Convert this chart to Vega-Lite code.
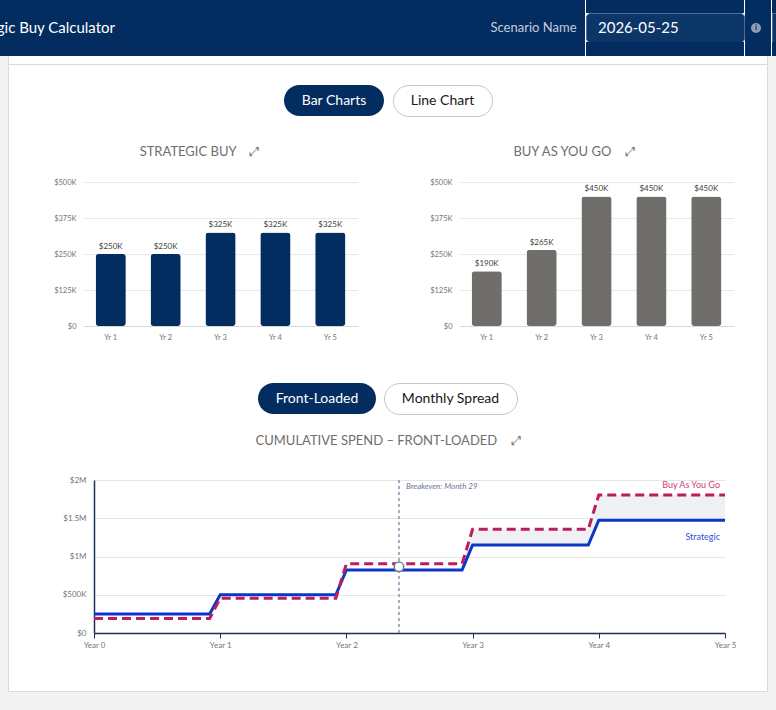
{
  "$schema": "https://vega.github.io/schema/vega-lite/v6.json",
  "background": "#ffffff",
  "padding": 0,
  "spacing": 0,
  "config": {
    "view": {"stroke": null},
    "font": "Lato",
    "concat": {"spacing": 0}
  },
  "datasets": {
    "strategic": [
      {"year": "Yr 1", "amount": 250000},
      {"year": "Yr 2", "amount": 250000},
      {"year": "Yr 3", "amount": 325000},
      {"year": "Yr 4", "amount": 325000},
      {"year": "Yr 5", "amount": 325000}
    ],
    "payg": [
      {"year": "Yr 1", "amount": 190000},
      {"year": "Yr 2", "amount": 265000},
      {"year": "Yr 3", "amount": 450000},
      {"year": "Yr 4", "amount": 450000},
      {"year": "Yr 5", "amount": 450000}
    ],
    "cumulative": [
      {"plan": "Strategic", "month": 0, "value": 250000},
      {"plan": "Strategic", "month": 11, "value": 250000},
      {"plan": "Strategic", "month": 12, "value": 500000},
      {"plan": "Strategic", "month": 23, "value": 500000},
      {"plan": "Strategic", "month": 24, "value": 825000},
      {"plan": "Strategic", "month": 35, "value": 825000},
      {"plan": "Strategic", "month": 36, "value": 1150000},
      {"plan": "Strategic", "month": 47, "value": 1150000},
      {"plan": "Strategic", "month": 48, "value": 1475000},
      {"plan": "Strategic", "month": 60, "value": 1475000},
      {"plan": "Buy As You Go", "month": 0, "value": 190000},
      {"plan": "Buy As You Go", "month": 11, "value": 190000},
      {"plan": "Buy As You Go", "month": 12, "value": 455000},
      {"plan": "Buy As You Go", "month": 23, "value": 455000},
      {"plan": "Buy As You Go", "month": 24, "value": 905000},
      {"plan": "Buy As You Go", "month": 35, "value": 905000},
      {"plan": "Buy As You Go", "month": 36, "value": 1355000},
      {"plan": "Buy As You Go", "month": 47, "value": 1355000},
      {"plan": "Buy As You Go", "month": 48, "value": 1805000},
      {"plan": "Buy As You Go", "month": 60, "value": 1805000}
    ],
    "gap": [
      {"month": 35, "value": 825000, "value2": 905000},
      {"month": 36, "value": 1150000, "value2": 1355000},
      {"month": 47, "value": 1150000, "value2": 1355000},
      {"month": 48, "value": 1475000, "value2": 1805000},
      {"month": 60, "value": 1475000, "value2": 1805000}
    ],
    "breakeven": [
      {"month": 29, "value": 865000, "label": "Breakeven: Month 29"}
    ]
  },
  "vconcat": [
    {
      "spacing": 0,
      "hconcat": [
        {"width": 230, "height": 56, "view": {"fill": "#032d60"}, "data": {"values": [{"t": "Strategic Buy Calculator"}]}, "mark": {"type": "text", "align": "right", "clip": true, "color": "#ffffff", "fontSize": 15}, "encoding": {"text": {"field": "t"}}},
        {"width": 258, "height": 56, "view": {"fill": "#032d60"}, "data": {"values": []}, "mark": "text"},
        {"width": 91, "height": 56, "view": {"fill": "#032d60"}, "data": {"values": [{"t": "Scenario Name"}]}, "mark": {"type": "text", "color": "#c5cedd", "fontSize": 13}, "encoding": {"text": {"field": "t"}}},
        {"width": 6, "height": 56, "view": {"fill": "#032d60"}, "data": {"values": []}, "mark": "text"},
        {
          "spacing": 0,
          "bounds": "flush",
          "vconcat": [
            {"width": 158, "height": 13, "view": {"fill": "#032d60"}, "data": {"values": []}, "mark": "text"},
            {"width": 158, "height": 29, "view": {"fill": "#0c3668", "stroke": "#4f6b94", "strokeWidth": 1, "cornerRadius": 4}, "data": {"values": [{"t": "2026-05-25"}]}, "mark": {"type": "text", "align": "left", "dx": -67, "color": "#ffffff", "fontSize": 15}, "encoding": {"text": {"field": "t"}}},
            {"width": 158, "height": 14, "view": {"fill": "#032d60"}, "data": {"values": []}, "mark": "text"}
          ]
        },
        {"width": 6, "height": 56, "view": {"fill": "#032d60"}, "data": {"values": []}, "mark": "text"},
        {
          "width": 10, "height": 56, "view": {"fill": "#032d60"},
          "data": {"values": [{"t": "i"}]},
          "layer": [
            {"mark": {"type": "point", "shape": "circle", "filled": true, "size": 100, "color": "#8d9cb6", "opacity": 1}},
            {"mark": {"type": "text", "color": "#032d60", "fontSize": 8, "fontWeight": "bold"}, "encoding": {"text": {"field": "t"}}}
          ]
        },
        {"width": 10, "height": 56, "view": {"fill": "#032d60"}, "data": {"values": []}, "mark": "text"},
        {
          "spacing": 0,
          "bounds": "flush",
          "vconcat": [
            {"width": 4, "height": 13, "view": {"fill": "#032d60"}, "data": {"values": []}, "mark": "text"},
            {"width": 4, "height": 29, "view": {"fill": "#0c3668", "stroke": "#4f6b94", "strokeWidth": 1}, "data": {"values": []}, "mark": "text"},
            {"width": 4, "height": 14, "view": {"fill": "#032d60"}, "data": {"values": []}, "mark": "text"}
          ]
        }
      ]
    },
    {
      "spacing": 0,
      "hconcat": [
        {"width": 8, "height": 636, "view": {"fill": "#f3f3f3"}, "data": {"values": []}, "mark": "text"},
        {"width": 1, "height": 636, "view": {"fill": "#dddbda"}, "data": {"values": []}, "mark": "text"},
        {
          "spacing": 0,
          "vconcat": [
            {"width": 758, "height": 8, "data": {"values": []}, "mark": "text"},
            {"width": 758, "height": 1, "view": {"fill": "#dddbda"}, "data": {"values": []}, "mark": "text"},
            {"width": 758, "height": 19, "data": {"values": []}, "mark": "text"},
            {
              "spacing": 0,
              "bounds": "flush",
              "hconcat": [
                {"width": 275, "height": 31, "data": {"values": []}, "mark": "text"},
                {"width": 100, "height": 31, "view": {"fill": "#032d60", "cornerRadius": 15.5}, "data": {"values": [{"t": "Bar Charts"}]}, "mark": {"type": "text", "color": "#ffffff", "fontSize": 14}, "encoding": {"text": {"field": "t"}}},
                {"width": 9, "height": 31, "data": {"values": []}, "mark": "text"},
                {"width": 99, "height": 31, "view": {"fill": "#ffffff", "stroke": "#c9c7c5", "strokeWidth": 1, "cornerRadius": 15.5}, "data": {"values": [{"t": "Line Chart"}]}, "mark": {"type": "text", "color": "#181818", "fontSize": 14}, "encoding": {"text": {"field": "t"}}},
                {"width": 275, "height": 31, "data": {"values": []}, "mark": "text"}
              ]
            },
            {"width": 758, "height": 25, "data": {"values": []}, "mark": "text"},
            {
              "spacing": 0,
              "bounds": "flush",
              "hconcat": [
                {"width": 381, "height": 20, "data": {"values": [{"t": "STRATEGIC BUY\u00a0\u00a0\u00a0\u00a0⤢"}]}, "mark": {"type": "text", "color": "#706e6b", "fontSize": 13}, "encoding": {"text": {"field": "t"}}},
                {"width": 368, "height": 20, "data": {"values": [{"t": "BUY AS YOU GO\u00a0\u00a0\u00a0\u00a0⤢"}]}, "mark": {"type": "text", "color": "#706e6b", "fontSize": 13}, "encoding": {"text": {"field": "t"}}},
                {"width": 9, "height": 20, "data": {"values": []}, "mark": "text"}
              ]
            },
            {"width": 758, "height": 16, "data": {"values": []}, "mark": "text"},
            {
              "spacing": 0,
              "bounds": "flush",
              "hconcat": [
                {"width": 74, "height": 200, "data": {"values": []}, "mark": "text"},
                {
                  "width": 275,
                  "height": 144,
                  "data": {"name": "strategic"},
                  "transform": [{"calculate": "'$' + datum.amount / 1000 + 'K'", "as": "label"}],
                  "encoding": {
                    "x": {"field": "year", "type": "nominal", "sort": null, "scale": {"paddingInner": 0.45, "paddingOuter": 0.23}, "axis": {"title": null, "labelAngle": 0, "domainColor": "#d8d8d8", "ticks": false, "labelFontSize": 7.5, "labelColor": "#747474", "labelPadding": 7, "grid": false}},
                    "y": {"field": "amount", "type": "quantitative", "scale": {"domain": [0, 500000], "nice": false}, "axis": {"title": null, "values": [0, 125000, 250000, 375000, 500000], "labelExpr": "datum.value == 0 ? '$0' : '$' + datum.value / 1000 + 'K'", "labelOverlap": false, "domain": false, "ticks": false, "gridColor": "#e8e8e8", "labelFontSize": 7.5, "labelColor": "#747474", "labelPadding": 7}}
                  },
                  "layer": [
                    {"mark": {"type": "bar", "color": "#032d60", "cornerRadius": 3}},
                    {"mark": {"type": "text", "baseline": "bottom", "dy": -3, "fontSize": 8, "color": "#3e3e3c"}, "encoding": {"text": {"field": "label"}}}
                  ]
                },
                {"width": 101, "height": 200, "data": {"values": []}, "mark": "text"},
                {
                  "width": 275,
                  "height": 144,
                  "data": {"name": "payg"},
                  "transform": [{"calculate": "'$' + datum.amount / 1000 + 'K'", "as": "label"}],
                  "encoding": {
                    "x": {"field": "year", "type": "nominal", "sort": null, "scale": {"paddingInner": 0.45, "paddingOuter": 0.23}, "axis": {"title": null, "labelAngle": 0, "domainColor": "#d8d8d8", "ticks": false, "labelFontSize": 7.5, "labelColor": "#747474", "labelPadding": 7, "grid": false}},
                    "y": {"field": "amount", "type": "quantitative", "scale": {"domain": [0, 500000], "nice": false}, "axis": {"title": null, "values": [0, 125000, 250000, 375000, 500000], "labelExpr": "datum.value == 0 ? '$0' : '$' + datum.value / 1000 + 'K'", "labelOverlap": false, "domain": false, "ticks": false, "gridColor": "#e8e8e8", "labelFontSize": 7.5, "labelColor": "#747474", "labelPadding": 7}}
                  },
                  "layer": [
                    {"mark": {"type": "bar", "color": "#706e6b", "cornerRadius": 3}},
                    {"mark": {"type": "text", "baseline": "bottom", "dy": -3, "fontSize": 8, "color": "#3e3e3c"}, "encoding": {"text": {"field": "label"}}}
                  ]
                },
                {"width": 33, "height": 200, "data": {"values": []}, "mark": "text"}
              ]
            },
            {
              "spacing": 0,
              "bounds": "flush",
              "hconcat": [
                {"width": 249, "height": 31, "data": {"values": []}, "mark": "text"},
                {"width": 118, "height": 31, "view": {"fill": "#032d60", "cornerRadius": 15.5}, "data": {"values": [{"t": "Front-Loaded"}]}, "mark": {"type": "text", "color": "#ffffff", "fontSize": 14}, "encoding": {"text": {"field": "t"}}},
                {"width": 8, "height": 31, "data": {"values": []}, "mark": "text"},
                {"width": 133, "height": 31, "view": {"fill": "#ffffff", "stroke": "#c9c7c5", "strokeWidth": 1, "cornerRadius": 15.5}, "data": {"values": [{"t": "Monthly Spread"}]}, "mark": {"type": "text", "color": "#181818", "fontSize": 14}, "encoding": {"text": {"field": "t"}}},
                {"width": 250, "height": 31, "data": {"values": []}, "mark": "text"}
              ]
            },
            {"width": 758, "height": 16, "data": {"values": []}, "mark": "text"},
            {"width": 758, "height": 20, "data": {"values": [{"t": "CUMULATIVE SPEND – FRONT-LOADED\u00a0\u00a0\u00a0\u00a0⤢"}]}, "mark": {"type": "text", "color": "#706e6b", "fontSize": 13}, "encoding": {"text": {"field": "t"}}},
            {"width": 758, "height": 25, "data": {"values": []}, "mark": "text"},
            {
              "spacing": 0,
              "bounds": "flush",
              "hconcat": [
                {"width": 85, "height": 211, "data": {"values": []}, "mark": "text"},
                {
                  "width": 631,
                  "height": 153,
                  "encoding": {
                    "x": {"field": "month", "type": "quantitative", "scale": {"domain": [0, 60], "nice": false, "zero": false}, "axis": {"title": null, "values": [0, 12, 24, 36, 48, 60], "labelExpr": "'Year ' + datum.value / 12", "grid": false, "domainColor": "#1f2d5c", "domainWidth": 1.5, "tickColor": "#1f2d5c", "tickSize": 5, "labelFontSize": 8, "labelColor": "#747474", "labelPadding": 3, "labelFlush": false}}
                  },
                  "layer": [
                    {
                      "data": {"name": "gap"},
                      "mark": {"type": "area", "color": "#eff0f3", "opacity": 1},
                      "encoding": {
                        "y": {"field": "value", "type": "quantitative", "scale": {"domain": [0, 2000000], "nice": false}, "axis": {"title": null, "values": [0, 500000, 1000000, 1500000, 2000000], "labelExpr": "datum.value == 0 ? '$0' : datum.value >= 1000000 ? '$' + datum.value / 1000000 + 'M' : '$' + datum.value / 1000 + 'K'", "labelOverlap": false, "domainColor": "#1f2d5c", "domainWidth": 1.5, "ticks": false, "gridColor": "#e6e6e6", "labelFontSize": 8, "labelColor": "#747474", "labelPadding": 8}},
                        "y2": {"field": "value2"}
                      }
                    },
                    {
                      "data": {"name": "breakeven"},
                      "mark": {"type": "rule", "color": "#8491aa", "strokeWidth": 1.5, "strokeDash": [3, 3]},
                      "encoding": {}
                    },
                    {
                      "data": {"name": "cumulative"},
                      "transform": [{"filter": "datum.plan === 'Strategic'"}],
                      "mark": {"type": "line", "color": "#0b37c6", "strokeWidth": 3},
                      "encoding": {"y": {"field": "value", "type": "quantitative", "axis": {"title": null, "values": [0, 500000, 1000000, 1500000, 2000000], "labelExpr": "datum.value == 0 ? '$0' : datum.value >= 1000000 ? '$' + datum.value / 1000000 + 'M' : '$' + datum.value / 1000 + 'K'", "labelOverlap": false, "domainColor": "#1f2d5c", "domainWidth": 1.5, "ticks": false, "gridColor": "#e6e6e6", "labelFontSize": 8, "labelColor": "#747474", "labelPadding": 8}}}
                    },
                    {
                      "data": {"name": "cumulative"},
                      "transform": [{"filter": "datum.plan === 'Buy As You Go'"}],
                      "mark": {"type": "line", "color": "#bd1d5c", "strokeWidth": 3, "strokeDash": [9, 5]},
                      "encoding": {"y": {"field": "value", "type": "quantitative", "axis": {"title": null, "values": [0, 500000, 1000000, 1500000, 2000000], "labelExpr": "datum.value == 0 ? '$0' : datum.value >= 1000000 ? '$' + datum.value / 1000000 + 'M' : '$' + datum.value / 1000 + 'K'", "labelOverlap": false, "domainColor": "#1f2d5c", "domainWidth": 1.5, "ticks": false, "gridColor": "#e6e6e6", "labelFontSize": 8, "labelColor": "#747474", "labelPadding": 8}}}
                    },
                    {
                      "data": {"name": "breakeven"},
                      "mark": {"type": "point", "shape": "circle", "filled": true, "fill": "#ffffff", "stroke": "#6f7c93", "strokeWidth": 1.5, "size": 90, "opacity": 1},
                      "encoding": {"y": {"field": "value", "type": "quantitative", "axis": {"title": null, "values": [0, 500000, 1000000, 1500000, 2000000], "labelExpr": "datum.value == 0 ? '$0' : datum.value >= 1000000 ? '$' + datum.value / 1000000 + 'M' : '$' + datum.value / 1000 + 'K'", "labelOverlap": false, "domainColor": "#1f2d5c", "domainWidth": 1.5, "ticks": false, "gridColor": "#e6e6e6", "labelFontSize": 8, "labelColor": "#747474", "labelPadding": 8}}}
                    },
                    {
                      "data": {"name": "breakeven"},
                      "mark": {"type": "text", "align": "left", "dx": 7, "fontSize": 8, "fontStyle": "italic", "color": "#6b7892"},
                      "encoding": {"y": {"datum": 1910000, "type": "quantitative", "axis": {"title": null, "values": [0, 500000, 1000000, 1500000, 2000000], "labelExpr": "datum.value == 0 ? '$0' : datum.value >= 1000000 ? '$' + datum.value / 1000000 + 'M' : '$' + datum.value / 1000 + 'K'", "labelOverlap": false, "domainColor": "#1f2d5c", "domainWidth": 1.5, "ticks": false, "gridColor": "#e6e6e6", "labelFontSize": 8, "labelColor": "#747474", "labelPadding": 8}}, "text": {"field": "label"}}
                    },
                    {
                      "data": {"name": "cumulative"},
                      "transform": [{"filter": "datum.month === 60 && datum.plan === 'Buy As You Go'"}],
                      "mark": {"type": "text", "align": "right", "dx": -5, "dy": -10, "fontSize": 9, "color": "#d13d79"},
                      "encoding": {"y": {"field": "value", "type": "quantitative", "axis": {"title": null, "values": [0, 500000, 1000000, 1500000, 2000000], "labelExpr": "datum.value == 0 ? '$0' : datum.value >= 1000000 ? '$' + datum.value / 1000000 + 'M' : '$' + datum.value / 1000 + 'K'", "labelOverlap": false, "domainColor": "#1f2d5c", "domainWidth": 1.5, "ticks": false, "gridColor": "#e6e6e6", "labelFontSize": 8, "labelColor": "#747474", "labelPadding": 8}}, "text": {"field": "plan"}}
                    },
                    {
                      "data": {"name": "cumulative"},
                      "transform": [{"filter": "datum.month === 60 && datum.plan === 'Strategic'"}],
                      "mark": {"type": "text", "align": "right", "dx": -5, "dy": 17, "fontSize": 9, "color": "#3154d6"},
                      "encoding": {"y": {"field": "value", "type": "quantitative", "axis": {"title": null, "values": [0, 500000, 1000000, 1500000, 2000000], "labelExpr": "datum.value == 0 ? '$0' : datum.value >= 1000000 ? '$' + datum.value / 1000000 + 'M' : '$' + datum.value / 1000 + 'K'", "labelOverlap": false, "domainColor": "#1f2d5c", "domainWidth": 1.5, "ticks": false, "gridColor": "#e6e6e6", "labelFontSize": 8, "labelColor": "#747474", "labelPadding": 8}}, "text": {"field": "plan"}}
                    }
                  ]
                },
                {"width": 42, "height": 211, "data": {"values": []}, "mark": "text"}
              ]
            },
            {"width": 758, "height": 1, "view": {"fill": "#dddbda"}, "data": {"values": []}, "mark": "text"}
          ]
        },
        {"width": 1, "height": 636, "view": {"fill": "#dddbda"}, "data": {"values": []}, "mark": "text"},
        {"width": 8, "height": 636, "view": {"fill": "#f3f3f3"}, "data": {"values": []}, "mark": "text"}
      ]
    },
    {"width": 776, "height": 18, "view": {"fill": "#f3f3f3"}, "data": {"values": []}, "mark": "text"}
  ]
}
